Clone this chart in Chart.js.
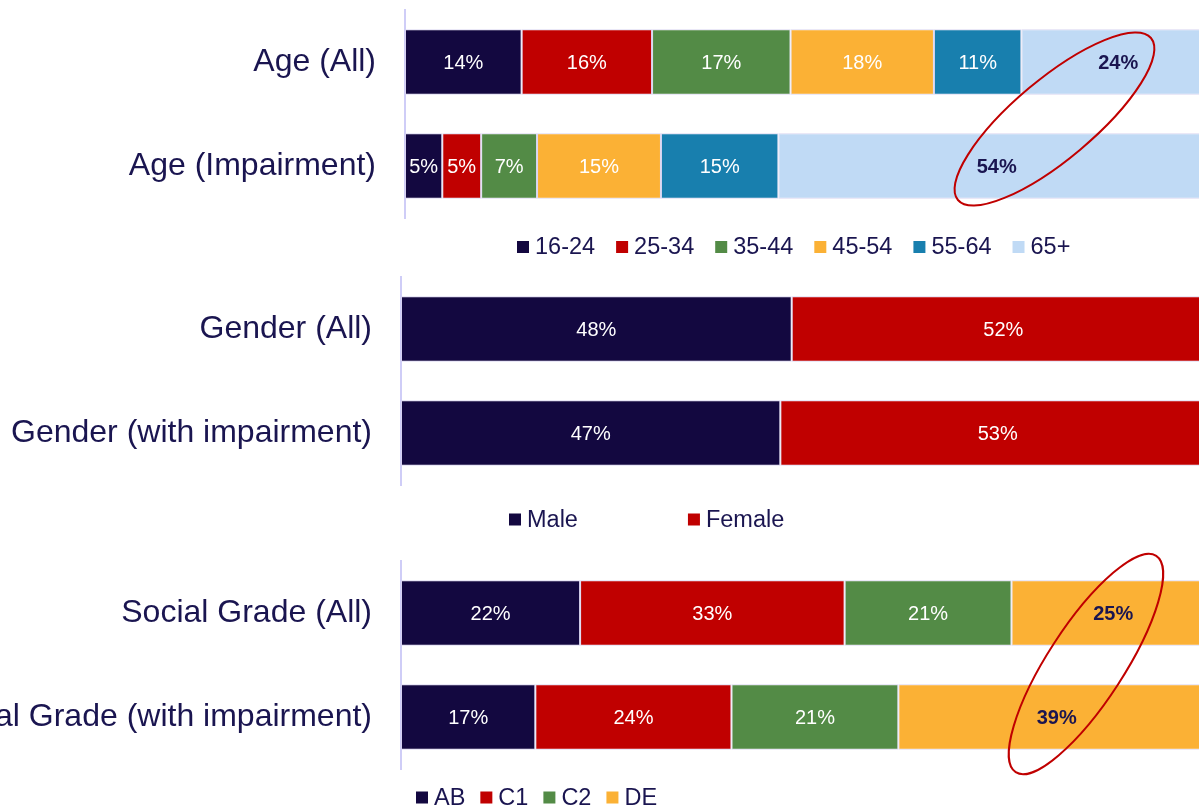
<!DOCTYPE html>
<html>
<head>
<meta charset="utf-8">
<script src="https://cdn.jsdelivr.net/npm/chart.js@4"></script>
<style>
  html, body { margin: 0; padding: 0; background: #fff; overflow: hidden; width: 1199px; height: 806px; }
  canvas { position: absolute; left: 0; }
</style>
</head>
<body>
<canvas id="ageChart" width="1215" height="270" style="top:0px"></canvas>
<canvas id="genderChart" width="1215" height="272" style="top:270px"></canvas>
<canvas id="gradeChart" width="1215" height="290" style="top:542px"></canvas>
<script>
const ageCategories = ["Age (All)", "Age (Impairment)"];
const ageGroups = ["16-24", "25-34", "35-44", "45-54", "55-64", "65+"];
const ageAll = [14.4, 16.1, 17.1, 17.7, 10.8, 23.9];
const ageImpairment = [4.6, 4.8, 6.9, 15.3, 14.5, 53.9];

const genderCategories = ["Gender (All)", "Gender (with impairment)"];
const genderGroups = ["Male", "Female"];
const genderAll = [48.0, 52.0];
const genderImpairment = [46.6, 53.4];

const gradeCategories = ["Social Grade (All)", "Social Grade (with impairment)"];
const gradeGroups = ["AB", "C1", "C2", "DE"];
const gradeAll = [22.0, 32.5, 20.5, 25.0];
const gradeImpairment = [16.5, 24.1, 20.5, 38.9];

const palette = ["#130840", "#c00000", "#538b46", "#fbb135", "#187fae", "#c0daf5"];
const navyText = "#1a1550";
const fontFamily = "'Liberation Sans', Arial, sans-serif";

// value labels in the middle of each segment
const segmentLabels = {
  id: "segmentLabels",
  afterDatasetsDraw(chart, args, opts) {
    const ctx = chart.ctx;
    const last = chart.data.datasets.length - 1;
    ctx.save();
    ctx.textAlign = "center";
    ctx.textBaseline = "middle";
    chart.data.datasets.forEach((ds, i) => {
      const meta = chart.getDatasetMeta(i);
      const strong = opts.highlightLast && i === last;
      ctx.font = (strong ? "bold " : "") + "20px " + fontFamily;
      ctx.fillStyle = strong ? navyText : "#ffffff";
      meta.data.forEach((bar, j) => {
        const x = (bar.base + bar.x) / 2;
        ctx.fillText(Math.round(ds.data[j]) + "%", x, bar.y + 1);
      });
    });
    ctx.restore();
  }
};

// red ring around the two labels of the last segment
const ring = {
  id: "ring",
  afterDatasetsDraw(chart, args, opts) {
    if (!opts.show) return;
    const meta = chart.getDatasetMeta(chart.data.datasets.length - 1);
    const pts = meta.data.map(b => ({ x: (b.base + b.x) / 2, y: b.y }));
    const cx = (pts[0].x + pts[1].x) / 2 + (opts.dx || 0);
    const cy = (pts[0].y + pts[1].y) / 2 + (opts.dy || 0);
    const ctx = chart.ctx;
    ctx.save();
    ctx.strokeStyle = "#c00000";
    ctx.lineWidth = 2;
    ctx.beginPath();
    ctx.ellipse(cx, cy, opts.a, opts.b, opts.angle * Math.PI / 180, 0, Math.PI * 2);
    ctx.stroke();
    ctx.restore();
  }
};

// simple legend below the plot area
const boxLegend = {
  id: "boxLegend",
  afterDraw(chart, args, opts) {
    const ctx = chart.ctx;
    const y = chart.chartArea.bottom + opts.offset;
    let x = opts.startX;
    ctx.save();
    ctx.font = "23.5px " + fontFamily;
    ctx.textBaseline = "middle";
    ctx.textAlign = "left";
    chart.data.datasets.forEach(ds => {
      ctx.fillStyle = ds.backgroundColor;
      ctx.fillRect(x, y - 6, 12, 12);
      ctx.fillStyle = navyText;
      ctx.fillText(ds.label, x + 18, y + 1);
      x += 18 + ctx.measureText(ds.label).width + opts.gap;
    });
    ctx.restore();
  }
};

function makeChart(id, categories, groups, allValues, impValues, axisLeft, padTop, padBottom, pluginOpts) {
  const datasets = groups.map((g, i) => ({
    label: g,
    data: [allValues[i], impValues[i]],
    backgroundColor: palette[i],
    borderColor: "rgba(214, 210, 240, 0.9)",
    borderWidth: 1,
    borderSkipped: false,
    barPercentage: 0.63,
    categoryPercentage: 1.0,
  }));

  return new Chart(document.getElementById(id), {
    type: "bar",
    data: { labels: categories, datasets: datasets },
    options: {
      indexAxis: "y",
      responsive: false,
      animation: false,
      devicePixelRatio: 1,
      layout: { padding: { top: padTop, bottom: padBottom, left: 0, right: 0 } },
      scales: {
        x: { stacked: true, min: 0, max: 100, display: false },
        y: {
          stacked: true,
          grid: { display: false, drawTicks: false },
          border: { display: true, color: "#cfcdf7", width: 2 },
          ticks: {
            color: navyText,
            padding: 29,
            font: { family: fontFamily, size: 32 },
          },
          afterFit(scale) {
            scale.width = axisLeft;
            scale.paddingTop = 0;
            scale.paddingBottom = 0;
          },
        },
      },
      plugins: {
        legend: { display: false },
        tooltip: { enabled: false },
        segmentLabels: pluginOpts.labels,
        ring: pluginOpts.ring,
        boxLegend: pluginOpts.legend,
      },
    },
    plugins: [segmentLabels, ring, boxLegend],
  });
}

makeChart("ageChart", ageCategories, ageGroups, ageAll, ageImpairment, 405, 10, 52, {
  labels: { highlightLast: true },
  ring: { show: true, a: 126, b: 40, angle: -40, dx: -3, dy: 5 },
  legend: { startX: 517, gap: 21, offset: 29 },
});

makeChart("genderChart", genderCategories, genderGroups, genderAll, genderImpairment, 401, 7, 57, {
  labels: { highlightLast: false },
  ring: { show: false },
  legend: { startX: 509, gap: 110, offset: 34.5 },
});

makeChart("gradeChart", gradeCategories, gradeGroups, gradeAll, gradeImpairment, 401, 19, 63, {
  labels: { highlightLast: true },
  ring: { show: true, a: 129, b: 38, angle: -57, dx: 1, dy: -1 },
  legend: { startX: 416, gap: 15, offset: 28.5 },
});
</script>
</body>
</html>
